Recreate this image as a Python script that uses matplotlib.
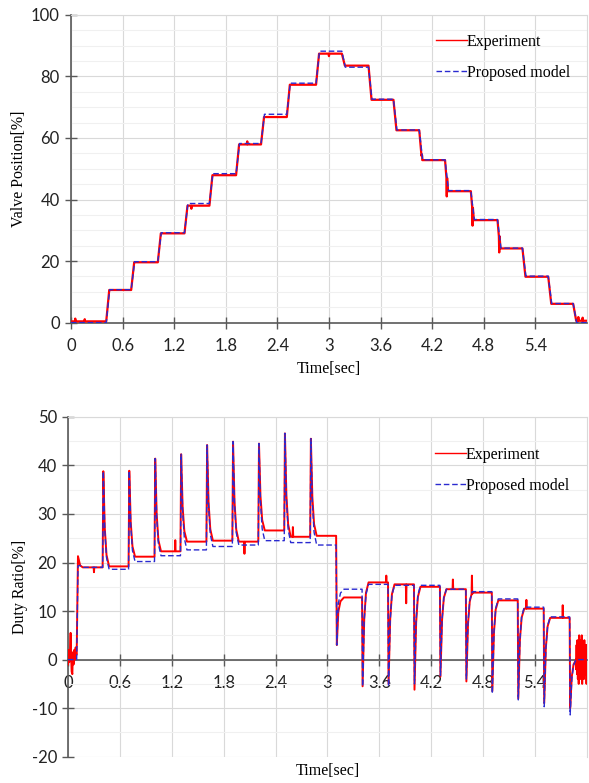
import numpy as np
import matplotlib
matplotlib.use("Agg")
import matplotlib.pyplot as plt
from matplotlib.lines import Line2D
from matplotlib.ticker import MultipleLocator

# ---------------- valve position (upper chart) ----------------
pos_step_t = [0.41, 0.70, 1.01, 1.32, 1.61, 1.92, 2.21, 2.51, 2.85,
              3.15, 3.46, 3.75, 4.05, 4.35, 4.65, 4.96, 5.25, 5.55, 5.84]
pos_exp_lvl = [0.4, 10.6, 19.6, 29.0, 38.0, 47.9, 57.9, 66.8, 77.3, 87.4,
               83.5, 72.4, 62.5, 52.8, 42.7, 33.3, 24.1, 14.9, 6.1, 0.6]
pos_mod_lvl = [0.0, 10.7, 19.8, 29.2, 38.7, 48.4, 58.2, 67.7, 77.8, 88.2,
               83.0, 72.6, 62.6, 52.9, 42.9, 33.5, 24.2, 15.1, 6.2, 0.0]
pos_exp_spk_t = [0.05, 0.16, 1.40, 2.05, 3.00, 4.08, 4.37, 4.67, 4.98, 5.90, 5.95]
pos_exp_spk_v = [1.3, 1.1, 37.0, 58.9, 86.6, 54.6, 41.0, 31.5, 22.8, 1.8, 1.6]

# ---------------- duty ratio (lower chart) ----------------
duty_start_t = [0.0, 0.008, 0.015, 0.022, 0.03, 0.036, 0.042, 0.05, 0.056, 0.064, 0.072, 0.08, 0.088, 0.095]
duty_start_v = [-1.0, 2.0, -0.5, 1.5, 5.5, 0.5, -2.5, -3.0, 1.5, -1.0, 2.0, 0.0, 2.5, 1.0]
duty_rise_exp = 21.3
duty_rise_mod = 19.3

duty_up_t = [0.40, 0.70, 1.00, 1.30, 1.60, 1.90, 2.20, 2.50, 2.80]
duty_up_peak = [38.8, 38.9, 41.4, 42.3, 44.2, 44.9, 44.5, 46.6, 45.5]
duty_exp_hi = [19.0, 19.2, 21.2, 22.3, 24.3, 24.5, 24.3, 26.6, 25.3, 25.5]
duty_mod_hi = [19.0, 18.6, 20.2, 21.4, 22.6, 23.3, 23.6, 24.5, 24.1, 23.6]

duty_drop_t = 3.10
duty_drop_min = 3.0

duty_dn_t = [3.40, 3.70, 4.00, 4.30, 4.60, 4.90, 5.20, 5.50, 5.80]
duty_exp_min = [-5.5, -5.0, -6.2, -3.5, -4.5, -6.5, -8.0, -9.0, -10.0]
duty_mod_min = [-5.5, -5.5, -5.0, -3.3, -4.0, -7.0, -8.3, -9.7, -11.4]
duty_exp_lo = [12.8, 15.9, 15.5, 15.0, 14.5, 13.8, 12.2, 10.5, 8.6, 0.0]
duty_mod_lo = [14.5, 15.5, 15.3, 15.3, 14.5, 14.0, 12.5, 10.8, 8.8, 0.0]

duty_end_t = [5.875, 5.88, 5.885, 5.89, 5.895, 5.90, 5.905, 5.91, 5.915, 5.92, 5.925,
              5.93, 5.935, 5.94, 5.945, 5.95, 5.955, 5.96, 5.965, 5.97, 5.975, 5.98,
              5.985, 5.99, 5.995, 6.0]
duty_end_v = [-2, 3, -3, 4, -4, 2, -5, 5, -3, 3, -4, 4, -2, 5, -5, 3,
              -3, 2, -4, 4, -2, 3, -3, 2, -5, 3]

duty_exp_spk_t = [0.30, 1.24, 2.04, 2.60, 3.68, 3.91, 4.45, 4.67, 5.30, 5.72]
duty_exp_spk_v = [18.0, 24.6, 21.8, 27.3, 17.3, 11.6, 16.5, 17.3, 12.3, 11.2]

x_ticks = [0, 0.6, 1.2, 1.8, 2.4, 3, 3.6, 4.2, 4.8, 5.4]
x_tick_labels = ['0', '0.6', '1.2', '1.8', '2.4', '3', '3.6', '4.2', '4.8', '5.4']


def build_steps(ts, lv, rise=0.035, t_end=6.0):
    t, v = [0.0], [lv[0]]
    for i, ti in enumerate(ts):
        t += [ti, ti + rise]
        v += [lv[i], lv[i + 1]]
    t.append(t_end)
    v.append(lv[-1])
    return t, v


def add_spikes(t, v, st, sv, w=0.004):
    t, v = list(t), list(v)
    base = np.interp(st, t, v)
    for s, val, b in zip(st, sv, base):
        t += [s - w, s, s + w]
        v += [b, val, b]
    order = np.argsort(t, kind='stable')
    return np.array(t)[order], np.array(v)[order]


def build_duty(rise_peak, hi, lo, mins, start_t, start_v, end_t, end_v):
    t, v = list(start_t), list(start_v)
    t += [0.10, 0.115, 0.14, 0.17]
    v += [start_v[-1], rise_peak, hi[0] + 0.4, hi[0]]
    for i, ti in enumerate(duty_up_t):
        pk, lv = duty_up_peak[i], hi[i + 1]
        t += [ti, ti + 0.008, ti + 0.025, ti + 0.045, ti + 0.075]
        v += [hi[i], pk, lv + 0.4 * (pk - lv), lv + 0.12 * (pk - lv), lv]
    d = duty_drop_t
    t += [d, d + 0.008, d + 0.025, d + 0.05, d + 0.09]
    v += [hi[-1], duty_drop_min, lo[0] - 3.0, lo[0] - 0.8, lo[0]]
    for i, ti in enumerate(duty_dn_t):
        mn, lv = mins[i], lo[i + 1]
        t += [ti, ti + 0.006, ti + 0.025, ti + 0.045, ti + 0.075]
        v += [lo[i], mn, lv - 0.35 * (lv - mn), lv - 0.1 * (lv - mn), lv]
    t += list(end_t)
    v += list(end_v)
    return t, v


plt.rcParams['font.family'] = ['Lato', 'DejaVu Sans']
plt.rcParams['axes.unicode_minus'] = False
serif = 'Liberation Serif'
red = '#ff0000'
blue = '#2a2ad0'
axis_col = '#595959'

fig = plt.figure(figsize=(5.89, 7.83), dpi=100)
ax1 = fig.add_axes([0.1205, 0.588, 0.876, 0.393])
ax2 = fig.add_axes([0.1155, 0.0336, 0.881, 0.434])

# upper chart curves
t_e, v_e = build_steps(pos_step_t, pos_exp_lvl)
t_e, v_e = add_spikes(t_e, v_e, pos_exp_spk_t, pos_exp_spk_v)
t_m, v_m = build_steps(pos_step_t, pos_mod_lvl, rise=0.04)
ax1.plot(t_e, v_e, color=red, lw=1.6, zorder=3)
ax1.plot(t_m, v_m, color=blue, lw=1.0, dashes=(4, 2), zorder=4)

# lower chart curves
t_e, v_e = build_duty(duty_rise_exp, duty_exp_hi, duty_exp_lo, duty_exp_min,
                      duty_start_t, duty_start_v, duty_end_t, duty_end_v)
t_e, v_e = add_spikes(t_e, v_e, duty_exp_spk_t, duty_exp_spk_v)
t_m, v_m = build_duty(duty_rise_mod, duty_mod_hi, duty_mod_lo, duty_mod_min,
                      [0.0], [0.0], [6.0], [0.0])
ax2.plot(t_e, v_e, color=red, lw=1.4, zorder=3)
ax2.plot(t_m, v_m, color=blue, lw=1.0, dashes=(4, 2), zorder=4)

for ax in (ax1, ax2):
    ax.set_xlim(0, 6.0)
    ax.set_xticks(x_ticks)
    ax.set_xticklabels(x_tick_labels)
    ax.grid(True, which='major', color='#d9d9d9', lw=0.8, zorder=0)
    ax.grid(True, which='minor', axis='y', color='#f0f0f0', lw=0.8, zorder=0)
    ax.tick_params(which='major', direction='inout', length=8, width=1,
                   color=axis_col, labelsize=12, labelcolor='#222222')
    ax.tick_params(which='minor', length=0)
    ax.tick_params(axis='x', pad=7)
    ax.tick_params(axis='y', pad=4)
    for s in ('left', 'bottom'):
        ax.spines[s].set_color(axis_col)
        ax.spines[s].set_linewidth(1.2)
    for s in ('top', 'right'):
        ax.spines[s].set_color('#d9d9d9')
        ax.spines[s].set_linewidth(0.8)
    ax.set_axisbelow(True)
    handles = [Line2D([], [], color=red, lw=1.0),
               Line2D([], [], color=blue, lw=1.0, dashes=(4, 2))]
    ax.legend(handles, ['Experiment', 'Proposed model'], frameon=False,
              loc='upper left', handlelength=1.9, handletextpad=0.0,
              labelspacing=0.95, prop={'family': serif, 'size': 11.5})

ax1.set_ylim(0, 100)
ax1.yaxis.set_major_locator(MultipleLocator(20))
ax1.yaxis.set_minor_locator(MultipleLocator(5))
ax1.legend_.set_bbox_to_anchor((0.68, 0.985))
ax1.set_ylabel('Valve Position[%]', family=serif, fontsize=11.5)
ax1.yaxis.set_label_coords(-0.085, 0.5)
ax1.set_xlabel('Time[sec]', family=serif, fontsize=11.5)
ax1.xaxis.set_label_coords(0.5, -0.125)

ax2.set_ylim(-20, 50)
ax2.yaxis.set_major_locator(MultipleLocator(10))
ax2.yaxis.set_minor_locator(MultipleLocator(5))
ax2.spines['bottom'].set_position(('data', 0))
ax2.legend_.set_bbox_to_anchor((0.68, 0.955))
ax2.set_ylabel('Duty Ratio[%]', family=serif, fontsize=11.5)
ax2.yaxis.set_label_coords(-0.078, 0.5)
ax2.set_xlabel('Time[sec]', family=serif, fontsize=11.5)
ax2.xaxis.set_label_coords(0.5, -0.018)

fig.savefig('out.png', dpi=100)
